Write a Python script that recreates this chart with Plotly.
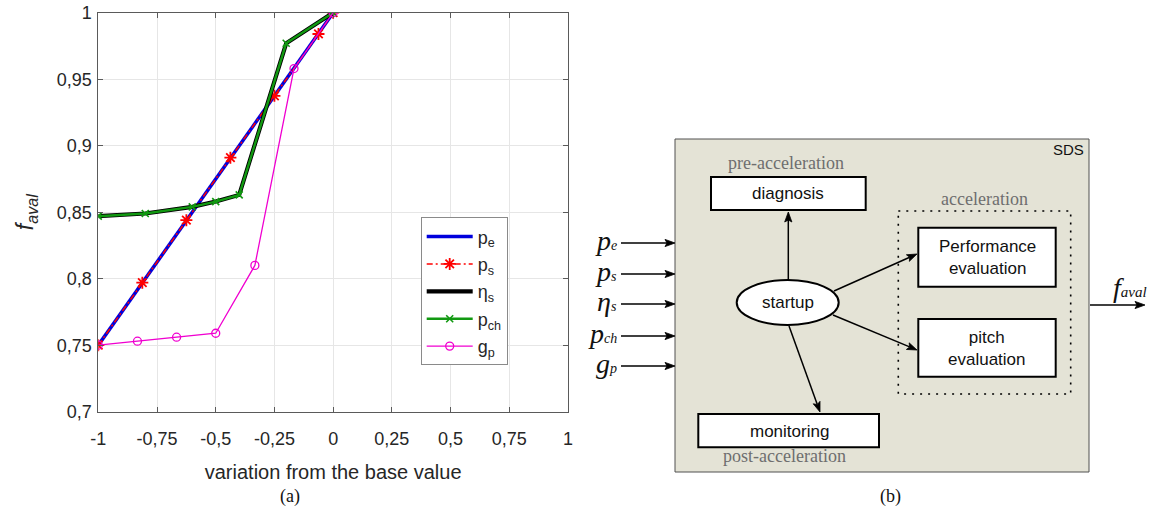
import math
import plotly.graph_objects as go

W, H = 1157, 516

# ---- sensitivity of f_aval to each parameter ----
x_pe = [-1, -0.8125, -0.625, -0.4375, -0.25, -0.0625, 0]
y_pe = [0.75, 0.797, 0.844, 0.891, 0.9375, 0.984, 1.0]

x_ps = [-1, -0.8125, -0.625, -0.4375, -0.25, -0.0625, 0]
y_ps = [0.75, 0.797, 0.844, 0.891, 0.9375, 0.984, 1.0]

x_eta = [-1, -0.8, -0.6, -0.5, -0.4, -0.2, 0]
y_eta = [0.847, 0.849, 0.854, 0.858, 0.863, 0.977, 1.0]

x_pch = [-1, -0.8, -0.6, -0.5, -0.4, -0.2, 0]
y_pch = [0.847, 0.849, 0.854, 0.858, 0.863, 0.977, 1.0]

x_gp = [-1, -0.8333, -0.6667, -0.5, -0.3333, -0.1667, 0]
y_gp = [0.75, 0.753, 0.756, 0.759, 0.810, 0.958, 1.0]

x_tickvals = [-1, -0.75, -0.5, -0.25, 0, 0.25, 0.5, 0.75, 1]
x_ticktext = ["-1", "-0,75", "-0,5", "-0,25", "0", "0,25", "0,5", "0,75", "1"]
y_tickvals = [0.7, 0.75, 0.8, 0.85, 0.9, 0.95, 1.0]
y_ticktext = ["0,7", "0,75", "0,8", "0,85", "0,9", "0,95", "1"]

# block diagram labels
input_labels = [("p", "e"), ("p", "s"), ("η", "s"), ("p", "ch"), ("g", "p")]

SANS = "Liberation Sans, Arial, sans-serif"
SERIF = "Liberation Serif, Times New Roman, serif"
AXC = "#5a5a5a"
TXT = "#262626"

fig = go.Figure()

fig.add_trace(go.Scatter(x=x_pe, y=y_pe, mode="lines", name="p<sub>e</sub>",
                         line=dict(color="#0000dd", width=3.5), legendgroup="a"))
fig.add_trace(go.Scatter(x=x_ps, y=y_ps, mode="lines+markers", name="p<sub>s</sub>",
                         line=dict(color="#ff0000", width=1.5, dash="6px,3px,2px,3px"),
                         marker=dict(symbol="asterisk-open", size=10,
                                     line=dict(color="#ff0000", width=1.8)),
                         legendgroup="b"))
fig.add_trace(go.Scatter(x=x_eta, y=y_eta, mode="lines", name="η<sub>s</sub>",
                         line=dict(color="black", width=4.2), legendgroup="c"))
fig.add_trace(go.Scatter(x=x_pch, y=y_pch, mode="lines+markers", name="p<sub>ch</sub>",
                         line=dict(color="#119911", width=2.4),
                         marker=dict(symbol="x-thin-open", size=7,
                                     line=dict(color="#119911", width=1.6)),
                         legendgroup="d"))
fig.add_trace(go.Scatter(x=x_gp, y=y_gp, mode="lines+markers", name="g<sub>p</sub>",
                         line=dict(color="#f000d0", width=1.3),
                         marker=dict(symbol="circle-open", size=8,
                                     line=dict(color="#f000d0", width=1.3)),
                         legendgroup="e"))

# invisible pixel-space axes for the block diagram
fig.add_trace(go.Scatter(x=[0], y=[0], xaxis="x2", yaxis="y2", mode="markers",
                         marker=dict(opacity=0), showlegend=False, hoverinfo="skip"))

L, R, T, B = 98.3, 568.0, 12.7, 411.7

fig.update_layout(
    width=W, height=H,
    margin=dict(l=0, r=0, t=0, b=0),
    paper_bgcolor="white",
    plot_bgcolor="rgba(0,0,0,0)",
    font=dict(family=SANS, color=TXT),
    xaxis=dict(domain=[L / W, R / W], range=[-1, 1], automargin=False,
               tickvals=x_tickvals, ticktext=x_ticktext,
               tickfont=dict(size=18, color=TXT),
               ticks="inside", ticklen=5, tickcolor=AXC,
               showline=True, linecolor=AXC, linewidth=1, mirror="ticks",
               showgrid=True, gridcolor="#e6e6e6", gridwidth=1, zeroline=False,
               ticklabelstandoff=11,
               title=dict(text="variation from the base value",
                          font=dict(size=20, color=TXT), standoff=16)),
    yaxis=dict(domain=[1 - B / H, 1 - T / H], range=[0.7, 1], automargin=False,
               tickvals=y_tickvals, ticktext=y_ticktext,
               tickfont=dict(size=18, color=TXT),
               ticks="inside", ticklen=5, tickcolor=AXC,
               showline=True, linecolor=AXC, linewidth=1, mirror="ticks",
               showgrid=True, gridcolor="#e6e6e6", gridwidth=1, zeroline=False,
               ticklabelstandoff=2,
               title=dict(text="<i>f</i><sub><i>aval</i></sub>",
                          font=dict(size=23, color=TXT), standoff=16)),
    xaxis2=dict(domain=[0, 1], range=[0, W], visible=False, anchor="y2"),
    yaxis2=dict(domain=[0, 1], range=[H, 0], visible=False, anchor="x2"),
    legend=dict(x=420.7 / W, y=1 - 217.3 / H, xanchor="left", yanchor="top",
                bgcolor="white", bordercolor="#8a8a8a", borderwidth=1,
                font=dict(size=18, color=TXT, family=SANS),
                itemwidth=46, tracegroupgap=1),
    showlegend=True,
)

shapes = []
annots = []


def rect(x0, y0, x1, y1, fill="white", color="black", width=2, dash="solid"):
    shapes.append(dict(type="rect", xref="x2", yref="y2", x0=x0, y0=y0, x1=x1, y1=y1,
                       fillcolor=fill, line=dict(color=color, width=width, dash=dash),
                       layer="above"))


def text(x, y, s, size=17, family=SANS, color="#111111", xanchor="center", yanchor="middle"):
    annots.append(dict(x=x, y=y, xref="x2", yref="y2", text=s, showarrow=False,
                       font=dict(size=size, family=family, color=color),
                       xanchor=xanchor, yanchor=yanchor))


def arrow(x0, y0, x1, y1, head=10.0, half=3.6):
    # shaft plus a filled, slightly swept-back head pointing at (x1, y1)
    dx, dy = x1 - x0, y1 - y0
    n = math.hypot(dx, dy)
    ux, uy = dx / n, dy / n
    px, py = -uy, ux
    bx, by = x1 - ux * head, y1 - uy * head
    nx, ny = x1 - ux * head * 0.8, y1 - uy * head * 0.8
    shapes.append(dict(type="line", xref="x2", yref="y2", x0=x0, y0=y0, x1=nx, y1=ny,
                       line=dict(color="black", width=1.5), layer="above"))
    path = "M%.2f,%.2f L%.2f,%.2f L%.2f,%.2f L%.2f,%.2f Z" % (
        x1, y1, bx + px * half, by + py * half, nx, ny, bx - px * half, by - py * half)
    shapes.append(dict(type="path", xref="x2", yref="y2", path=path,
                       fillcolor="black", line=dict(color="black", width=0.8),
                       layer="above"))


# SDS frame
rect(675, 139, 1089, 472, fill="#e4e3d6", color="#505050", width=1)
text(1068, 149, "SDS", size=15, color="#111111")

# pre-acceleration
text(786, 163, "pre-acceleration", size=18, family=SERIF, color="#6e6e6e")
rect(711, 177, 865.7, 210)
text(788, 193.5, "diagnosis")

# acceleration group
text(984, 199, "acceleration", size=18, family=SERIF, color="#6e6e6e")
rect(898.3, 211, 1070.7, 394, fill="rgba(0,0,0,0)", color="black", width=1.6,
     dash="2px,6px")
rect(918.3, 227.7, 1055.7, 286.7)
text(987, 257, "Performance<br>evaluation")
rect(918.3, 319, 1055.7, 376.7)
text(987, 348, "pitch<br>evaluation")

# post-acceleration
rect(698.3, 414, 879, 447.3)
text(789, 431, "monitoring")
text(784, 456, "post-acceleration", size=18, family=SERIF, color="#6e6e6e")

# startup node
shapes.append(dict(type="circle", xref="x2", yref="y2", x0=736.7, x1=838.7, y0=280, y1=325,
                   fillcolor="white", line=dict(color="black", width=2), layer="above"))
text(788, 302.5, "startup")

# internal arrows
arrow(788.3, 280, 788.3, 212)
arrow(834, 291, 917, 254)
arrow(833, 315, 917, 350)
arrow(789, 326, 820, 412)

# inputs
in_y = [243, 274, 304, 336, 366]
for (base, sub), yy in zip(input_labels, in_y):
    arrow(621, yy, 675, yy)
    text(619, yy - 3, "<i>%s</i><span style='font-size:14px'><i>%s</i></span>" % (base, sub),
         size=28, family=SERIF, color="#111111", xanchor="right")

# output
arrow(1090, 305, 1145, 305)
text(1111, 287, "<i>f</i><span style='font-size:15px'><i>aval</i></span>",
     size=28, family=SERIF, color="#111111", xanchor="left")

# panel captions
text(290, 496, "(a)", size=18, family=SERIF, color="#111111")
text(890, 496, "(b)", size=18, family=SERIF, color="#111111")

fig.update_layout(shapes=shapes, annotations=annots)
fig.write_html("out.html")
